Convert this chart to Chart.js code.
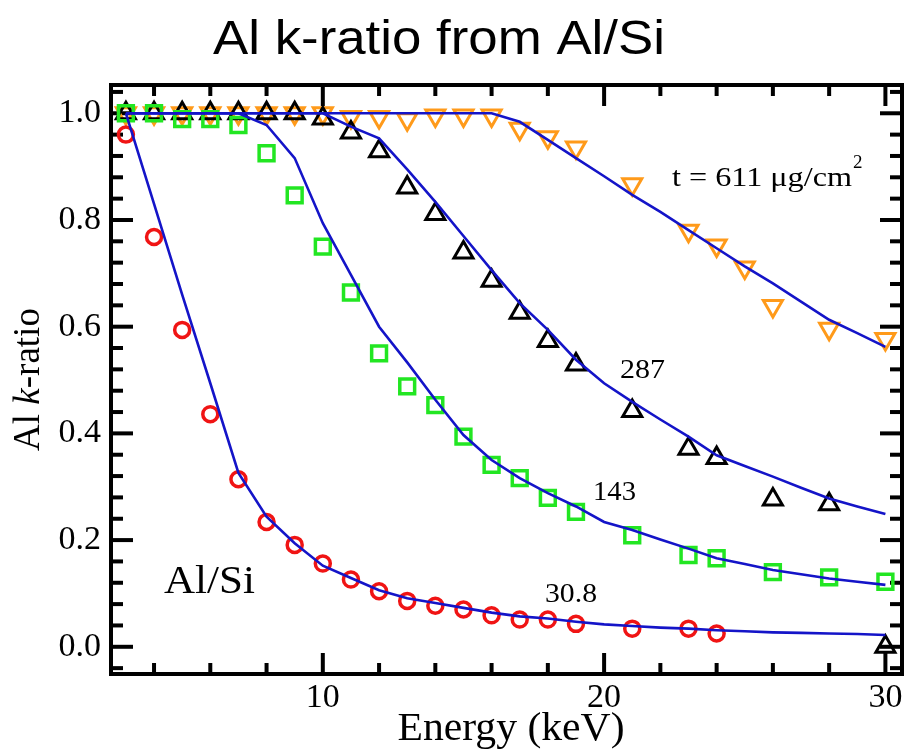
<!DOCTYPE html>
<html>
<head>
<meta charset="utf-8">
<script src="https://cdn.jsdelivr.net/npm/chart.js@4"></script>
<style>
  body { margin: 0; background: #fff; }
  canvas { display: block; }
</style>
</head>
<body>
<canvas id="chart" width="916" height="753"></canvas>
<script>
// measured points (energy in keV, Al k-ratio)
const energy30 = [3, 4, 5, 6, 7, 8, 9, 10, 11, 12, 13, 14, 15, 16, 17, 18, 19, 21, 23, 24];
const kratio30 = [0.96, 0.768, 0.594, 0.436, 0.314, 0.234, 0.191, 0.156, 0.126, 0.104, 0.086, 0.077, 0.070, 0.059, 0.051, 0.051, 0.043, 0.034, 0.034, 0.025];

const energy143 = [3, 4, 5, 6, 7, 8, 9, 10, 11, 12, 13, 14, 15, 16, 17, 18, 19, 21, 23, 24, 26, 28, 30];
const kratio143 = [1.0, 1.0, 0.989, 0.989, 0.978, 0.925, 0.846, 0.75, 0.664, 0.55, 0.488, 0.453, 0.394, 0.341, 0.316, 0.279, 0.253, 0.209, 0.172, 0.166, 0.140, 0.130, 0.122];

const energy287 = [3, 4, 5, 6, 7, 8, 9, 10, 11, 12, 13, 14, 15, 16, 17, 18, 19, 21, 23, 24, 26, 28, 30];
const kratio287 = [1.0, 1.0, 1.0, 1.0, 1.0, 1.0, 1.0, 0.99, 0.964, 0.929, 0.861, 0.811, 0.739, 0.686, 0.626, 0.573, 0.529, 0.442, 0.371, 0.354, 0.276, 0.267, 0.0];

const energy611 = [3, 4, 5, 6, 7, 8, 9, 10, 11, 12, 13, 14, 15, 16, 17, 18, 19, 21, 23, 24, 25, 26, 28, 30];
const kratio611 = [1.0, 1.0, 1.0, 1.0, 1.0, 1.0, 1.0, 1.0, 0.993, 0.993, 0.989, 0.996, 0.996, 0.996, 0.971, 0.955, 0.936, 0.867, 0.78, 0.752, 0.711, 0.639, 0.596, 0.577];

// calculated curves
const modelEnergy = [3, 4, 5, 6, 7, 8, 9, 10, 11, 12, 13, 14, 15, 16, 17, 18, 19, 20, 21, 22, 23, 24, 25, 26, 27, 28, 29, 30];
const model30 = [1.0, 0.83, 0.66, 0.494, 0.326, 0.244, 0.194, 0.152, 0.129, 0.106, 0.091, 0.082, 0.073, 0.064, 0.057, 0.053, 0.047, 0.042, 0.039, 0.036, 0.034, 0.031, 0.029, 0.027, 0.026, 0.025, 0.024, 0.022];
const model143 = [1.0, 1.0, 1.0, 1.0, 1.0, 0.978, 0.916, 0.794, 0.697, 0.60, 0.533, 0.463, 0.397, 0.35, 0.316, 0.288, 0.263, 0.234, 0.219, 0.201, 0.184, 0.166, 0.155, 0.144, 0.136, 0.128, 0.122, 0.116];
const model287 = [1.0, 1.0, 1.0, 1.0, 1.0, 1.0, 1.0, 1.0, 0.975, 0.953, 0.895, 0.834, 0.77, 0.706, 0.644, 0.594, 0.538, 0.494, 0.459, 0.426, 0.394, 0.359, 0.339, 0.319, 0.298, 0.278, 0.263, 0.249];
const model611 = [1.0, 1.0, 1.0, 1.0, 1.0, 1.0, 1.0, 1.0, 1.0, 1.0, 1.0, 1.0, 1.0, 1.0, 0.984, 0.95, 0.916, 0.882, 0.847, 0.815, 0.781, 0.747, 0.713, 0.681, 0.647, 0.613, 0.588, 0.562];

const xTickLabels = [10, 20, 30];
const yTickLabels = [0.0, 0.2, 0.4, 0.6, 0.8, 1.0];

const serif = '"Liberation Serif", "DejaVu Serif", serif';
const lineBlue = '#1414c8';

function pts(xs, ys) {
  return xs.map((x, i) => ({ x: x, y: ys[i] }));
}

function markers(label, xs, ys, color, style, radius, width, rotation) {
  return {
    label: label,
    data: pts(xs, ys),
    showLine: false,
    pointStyle: style,
    pointRadius: radius,
    pointHoverRadius: radius,
    pointBorderWidth: width,
    pointRotation: rotation || 0,
    borderColor: color,
    backgroundColor: 'rgba(0,0,0,0)',
    order: 1
  };
}

function curve(label, ys) {
  return {
    label: label,
    data: pts(modelEnergy, ys),
    showLine: true,
    borderColor: lineBlue,
    borderWidth: 2.6,
    pointRadius: 0,
    tension: 0,
    order: 0
  };
}

// text drawn with a horizontal stretch so it fills a given width
function stretchText(ctx, text, x, y, width, align) {
  const w = ctx.measureText(text).width;
  const sx = width / w;
  ctx.save();
  ctx.translate(x, y);
  ctx.scale(sx, 1);
  ctx.textAlign = align || 'left';
  ctx.fillText(text, 0, 0);
  ctx.restore();
  return width;
}

// box frame with inward ticks on all four sides, plus the text labels
const framePlugin = {
  id: 'frame',
  beforeDatasetsDraw(chart) {
    const { ctx, chartArea: a, scales } = chart;
    const x = scales.x, y = scales.y;
    ctx.save();
    ctx.strokeStyle = '#000';
    ctx.lineCap = 'butt';
    ctx.lineWidth = 4;
    ctx.strokeRect(a.left, a.top, a.right - a.left, a.bottom - a.top);
    const seg = (x1, y1, x2, y2) => {
      ctx.beginPath();
      ctx.moveTo(x1, y1);
      ctx.lineTo(x2, y2);
      ctx.stroke();
    };
    for (let v = 4; v <= 30; v += 2) {
      const px = x.getPixelForValue(v);
      const len = xTickLabels.includes(v) ? 21 : 11;
      seg(px, a.bottom, px, a.bottom - len);
      seg(px, a.top, px, a.top + len);
    }
    for (let i = -1; i <= 26; i++) {
      const py = y.getPixelForValue(i * 0.04);
      const len = i % 5 === 0 ? 22 : 12;
      seg(a.left, py, a.left + len, py);
      seg(a.right, py, a.right - len, py);
    }
    ctx.restore();
  },
  afterDraw(chart) {
    const { ctx, chartArea: a } = chart;
    ctx.save();
    ctx.fillStyle = '#000';
    ctx.textBaseline = 'alphabetic';

    // title
    ctx.font = '49px "Liberation Sans", Arial, sans-serif';
    stretchText(ctx, 'Al k-ratio from Al/Si', 439, 54, 452, 'center');

    // x axis title
    ctx.font = '40px ' + serif;
    stretchText(ctx, 'Energy (keV)', 511, 740, 227, 'center');

    // y axis title with italic k
    ctx.save();
    ctx.translate(39, (a.top + a.bottom) / 2);
    ctx.rotate(-Math.PI / 2);
    const parts = [['Al ', ''], ['k', 'italic '], ['-ratio', '']];
    let total = 0;
    parts.forEach(p => { ctx.font = p[1] + '37px ' + serif; total += ctx.measureText(p[0]).width; });
    let cx = -total / 2;
    ctx.textAlign = 'left';
    parts.forEach(p => {
      ctx.font = p[1] + '37px ' + serif;
      ctx.fillText(p[0], cx, 0);
      cx += ctx.measureText(p[0]).width;
    });
    ctx.restore();

    ctx.font = '39px ' + serif;
    stretchText(ctx, 'Al/Si', 164, 593, 91);

    ctx.font = '28px ' + serif;
    stretchText(ctx, '30.8', 545, 602, 52);
    stretchText(ctx, '143', 593, 500, 43);
    stretchText(ctx, '287', 620, 378, 45);
    const tw = stretchText(ctx, 't = 611 \u03bcg/cm', 672, 186, 180);
    ctx.font = '19px ' + serif;
    ctx.textAlign = 'left';
    ctx.fillText('2', 672 + tw + 1, 168);
    ctx.restore();
  }
};

const ctx = document.getElementById('chart').getContext('2d');
new Chart(ctx, {
  type: 'scatter',
  data: {
    datasets: [
      curve('calc 30.8', model30),
      curve('calc 143', model143),
      curve('calc 287', model287),
      curve('calc 611', model611),
      markers('30.8 \u03bcg/cm2', energy30, kratio30, '#f01414', 'circle', 7.5, 3.5),
      markers('143 \u03bcg/cm2', energy143, kratio143, '#22e622', 'rect', 10.5, 3.5),
      markers('287 \u03bcg/cm2', energy287, kratio287, '#000000', 'triangle', 11, 3),
      markers('611 \u03bcg/cm2', energy611, kratio611, '#ff9a1a', 'triangle', 11, 3, 180)
    ]
  },
  options: {
    responsive: false,
    devicePixelRatio: 1,
    animation: false,
    layout: { padding: { top: 85, right: 6, left: 0, bottom: 0 } },
    plugins: {
      legend: { display: false },
      tooltip: { enabled: false },
      title: { display: false }
    },
    scales: {
      x: {
        type: 'linear',
        min: 2.47,
        max: 30.59,
        grid: { display: false, drawTicks: false },
        border: { display: false },
        afterBuildTicks: s => { s.ticks = xTickLabels.map(v => ({ value: v })); },
        afterFit: s => { s.height = 79; },
        ticks: {
          padding: 4,
          color: '#000',
          font: { family: serif, size: 34 },
          callback: v => String(v)
        }
      },
      y: {
        type: 'linear',
        min: -0.051,
        max: 1.053,
        grid: { display: false, drawTicks: false },
        border: { display: false },
        afterBuildTicks: s => { s.ticks = yTickLabels.map(v => ({ value: v })); },
        afterFit: s => { s.width = 111; },
        ticks: {
          padding: 10,
          color: '#000',
          font: { family: serif, size: 34 },
          callback: v => v.toFixed(1)
        }
      }
    }
  },
  plugins: [framePlugin]
});
</script>
</body>
</html>
